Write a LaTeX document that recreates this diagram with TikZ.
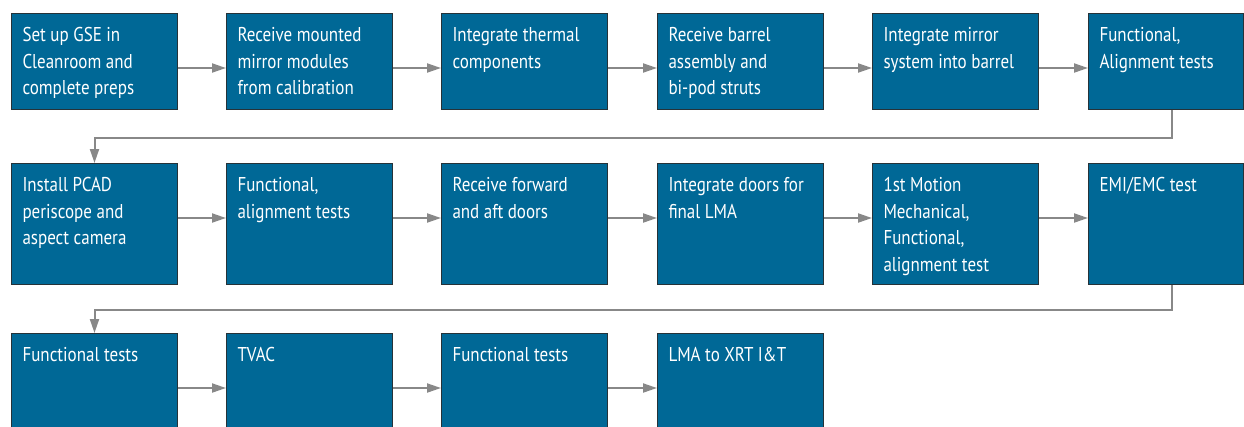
\documentclass[tikz,border=0pt]{standalone}
\usepackage{fontspec}
\setmainfont{PT Sans}[FakeStretch=0.85]
\usepackage{tikz}
\usetikzlibrary{arrows.meta,calc}
\definecolor{stepfill}{HTML}{006896}
\definecolor{stepline}{HTML}{263238}
\definecolor{flow}{HTML}{888888}
% text of a step, set from the top left corner
\newcommand{\steptext}[3]{\parbox[t][#2][t]{#1}{\raggedright\rule{0pt}{28pt}#3}}
\tikzset{
  stepbox/.style={draw=stepline, line width=1pt, fill=stepfill, anchor=north west,
                  inner xsep=11pt, inner ysep=0pt, text=white,
                  font=\fontsize{20}{26.7}\selectfont},
  ar/.style={-{Triangle[length=14pt,width=9pt]}, line width=2pt, draw=flow},
}

\begin{document}
\begin{tikzpicture}[x=1pt, y=-1pt]
  \useasboundingbox (0,0) rectangle (1244,426);
  \clip (0,0) rectangle (1244,426);

  % row 1
  \foreach \n/\x/\w/\t in {1/11/144pt/{Set up GSE in\\Cleanroom and\\complete preps},
      2/226/144pt/{Receive mounted\\mirror modules\\from calibration},
      3/441/144pt/{Integrate thermal\\components},
      4/657/144pt/{Receive barrel\\assembly and\\bi-pod struts},
      5/872/144pt/{Integrate mirror\\system into barrel},
      6/1088/133pt/{Functional,\\Alignment tests}}
    \node[stepbox] (s\n) at (\x,13) {\steptext{\w}{96pt}{\t}};

  % row 2
  \foreach \n/\x/\w/\t in {7/11/144pt/{Install PCAD\\periscope and\\aspect camera},
      8/226/144pt/{Functional,\\alignment tests},
      9/441/144pt/{Receive forward\\and aft doors},
      10/657/144pt/{Integrate doors for\\final LMA},
      11/872/144pt/{1st Motion\\Mechanical,\\Functional,\\alignment test},
      12/1088/133pt/{EMI/EMC test}}
    \node[stepbox] (s\n) at (\x,163) {\steptext{\w}{121pt}{\t}};

  % row 3
  \foreach \n/\x/\t in {13/11/{Functional tests}, 14/226/{TVAC},
      15/441/{Functional tests}, 16/657/{LMA to XRT I\&T}}
    \node[stepbox] (s\n) at (\x,333) {\steptext{144pt}{110pt}{\t}};

  % flow along each row
  \foreach \a/\b in {1/2,2/3,3/4,4/5,5/6,7/8,8/9,9/10,10/11,11/12,13/14,14/15,15/16}
    \draw[ar] ($(s\a.north east)+(0,55)$) -- ($(s\b.north west)+(0,55)$);

  % back to the start of the next row
  \draw[ar] ($(s6.south west)+(84,0)$) -- ++(0,28) -| (s7.north);
  \draw[ar] ($(s12.south west)+(84,0)$) -- ++(0,25) -| (s13.north);
\end{tikzpicture}
\end{document}
